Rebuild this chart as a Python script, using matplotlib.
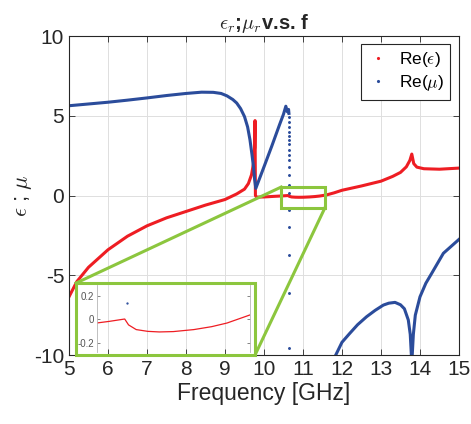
import matplotlib
matplotlib.use("Agg")
import matplotlib.pyplot as plt
from matplotlib.patches import Rectangle

plt.rcParams["font.family"] = ["Liberation Sans", "DejaVu Sans"]
plt.rcParams["mathtext.fontset"] = "cm"
plt.rcParams["axes.unicode_minus"] = False

# Re(eps) vs frequency (GHz)
eps_f = [5.0, 5.2, 5.5, 6.0, 6.5, 7.0, 7.5, 8.0, 8.5, 9.0, 9.3, 9.5, 9.6, 9.68,
         9.73, 9.76, 9.77, 9.78, 9.81, 10.0, 10.2, 10.4, 10.5, 10.62, 10.65,
         10.71, 10.8, 10.89, 11.0, 11.16, 11.3, 11.42, 11.6, 11.8, 12.0, 12.5,
         13.0, 13.3, 13.5, 13.65, 13.74, 13.79, 13.84, 13.92, 14.1, 14.5, 15.0]
eps_re = [-6.35, -5.4, -4.5, -3.4, -2.55, -1.9, -1.4, -1.0, -0.6, -0.25, 0.1,
          0.4, 0.75, 1.3, 2.0, 3.0, 4.7, 0.0, -0.1, -0.09, -0.06, -0.034, -0.02,
          0.0, -0.05, -0.09, -0.105, -0.11, -0.107, -0.09, -0.065, -0.034, 0.035,
          0.17, 0.33, 0.6, 0.9, 1.2, 1.45, 1.8, 2.2, 2.6, 2.0, 1.78, 1.68, 1.65, 1.72]

# Re(mu), first branch
mu_f = [5.0, 5.5, 6.0, 6.5, 7.0, 7.5, 8.0, 8.4, 8.7, 8.9, 9.05, 9.2, 9.3, 9.4,
        9.5, 9.58, 9.64, 9.69, 9.73, 9.76, 9.79, 10.0, 10.2, 10.4, 10.5, 10.56,
        10.6, 10.63, 10.64]
mu_re = [5.63, 5.74, 5.85, 5.98, 6.12, 6.27, 6.4, 6.48, 6.47, 6.4, 6.25, 6.02,
         5.8, 5.45, 4.95, 4.3, 3.5, 2.6, 1.8, 1.0, 0.45, 1.8, 3.1, 4.45, 5.1, 5.6,
         5.25, 5.4, 5.15]

# sparse samples across the jump at ~10.64 GHz
mu_jump_f = [10.64] * 19
mu_jump = [4.9, 4.6, 4.3, 4.0, 3.75, 3.5, 3.2, 2.85, 2.55, 2.2, 1.8, 1.3, 0.66,
           0.14, -0.91, -1.98, -3.73, -6.11, -9.56]

# Re(mu), second branch
mu2_f = [11.8, 12.0, 12.2, 12.4, 12.63, 12.85, 13.06, 13.2, 13.36, 13.5, 13.6,
         13.7, 13.75, 13.79, 13.83, 13.88, 14.0, 14.15, 14.3, 14.6, 15.0]
mu2_re = [-10.2, -9.2, -8.64, -8.1, -7.6, -7.2, -6.87, -6.75, -6.7, -6.85, -7.1,
          -7.8, -8.7, -10.5, -8.7, -7.5, -6.35, -5.5, -4.88, -3.62, -2.75]

RED = "#ee1d23"
BLUE = "#2b4c9b"
GREEN = "#8cc63e"
DARK = "#262626"

fig = plt.figure(figsize=(4.71, 4.24), dpi=100)
ax = fig.add_axes([0.1465, 0.1627, 0.828, 0.7523])

ax.plot(eps_f, eps_re, color=RED, lw=2.2)
ax.plot(mu_f, mu_re, color=BLUE, lw=2.2)
ax.plot(mu_jump_f, mu_jump, ".", color=BLUE, ms=2.2)
ax.plot(mu2_f, mu2_re, color=BLUE, lw=2.2)

ax.set_xlim(5, 15)
ax.set_ylim(-10, 10)
ax.set_xticks(range(5, 16))
ax.set_yticks([-10, -5, 0, 5, 10])
ax.grid(True, color="#dedede", lw=0.7)
ax.tick_params(direction="in", top=True, right=True, labelsize=15,
               colors=DARK, length=4, width=0.6)
for s in ax.spines.values():
    s.set_color(DARK)
    s.set_linewidth(0.8)

ax.set_xlabel("Frequency [GHz]", fontsize=16.5, color=DARK, labelpad=2)
ax.set_ylabel(r"$\epsilon$ ; $\mu$", fontsize=16, color=DARK)
ax.yaxis.set_label_coords(-0.09, 0.5)
ax.set_title(r"$\epsilon_r$;$\mu_r$v.s. f", fontsize=14.5, fontweight="bold",
             color=DARK, pad=5)

# legend proxies (dots only, like the original)
h1, = ax.plot([], [], ".", color=RED, ms=2.5, label=r"Re($\epsilon$)")
h2, = ax.plot([], [], ".", color=BLUE, ms=2.5, label=r"Re($\mu$)")
leg = ax.legend(handles=[h1, h2], loc="upper right", bbox_to_anchor=(0.977, 0.975),
                borderaxespad=0, fontsize=12.5, fancybox=False, framealpha=1,
                handlelength=1.2, handletextpad=0.6, borderpad=0.35,
                labelspacing=0.25)
leg.get_frame().set_edgecolor(DARK)
leg.get_frame().set_linewidth(0.8)

# zoom box, inset frame and connectors
ax.add_patch(Rectangle((10.44, -0.78), 1.12, 1.31, fill=False,
                       ec=GREEN, lw=2.2, zorder=5))
ax.add_patch(Rectangle((5.18, -10), 4.59, 4.51, fill=False, ec=GREEN,
                       lw=2.2, zorder=5, clip_on=False))
ax.plot([5.18, 10.44], [-5.49, 0.53], color=GREEN, lw=2.2, zorder=5)
ax.plot([9.77, 11.56], [-10, -0.78], color=GREEN, lw=2.2, zorder=5, clip_on=False)

ins = fig.add_axes([0.205, 0.17, 0.326, 0.158])
ins.patch.set_alpha(0)
ins.plot(eps_f, eps_re, color=RED, lw=0.9)
ins.plot(mu_jump_f, mu_jump, ".", color=BLUE, ms=1.3)
ins.set_xlim(10.4, 11.6)
ins.set_ylim(-0.28, 0.29)
ins.set_xticks([])
ins.set_yticks([-0.2, 0, 0.2])
ins.set_yticklabels(["-0.2", "0", "0.2"])
ins.tick_params(direction="in", right=True, labelsize=7, colors="#555555",
                length=2, width=0.5, pad=2)
for k in ["top", "bottom"]:
    ins.spines[k].set_visible(False)
for k in ["left", "right"]:
    ins.spines[k].set_color("#b5b5b5")
    ins.spines[k].set_linewidth(0.6)

fig.savefig("out.png", dpi=100)
